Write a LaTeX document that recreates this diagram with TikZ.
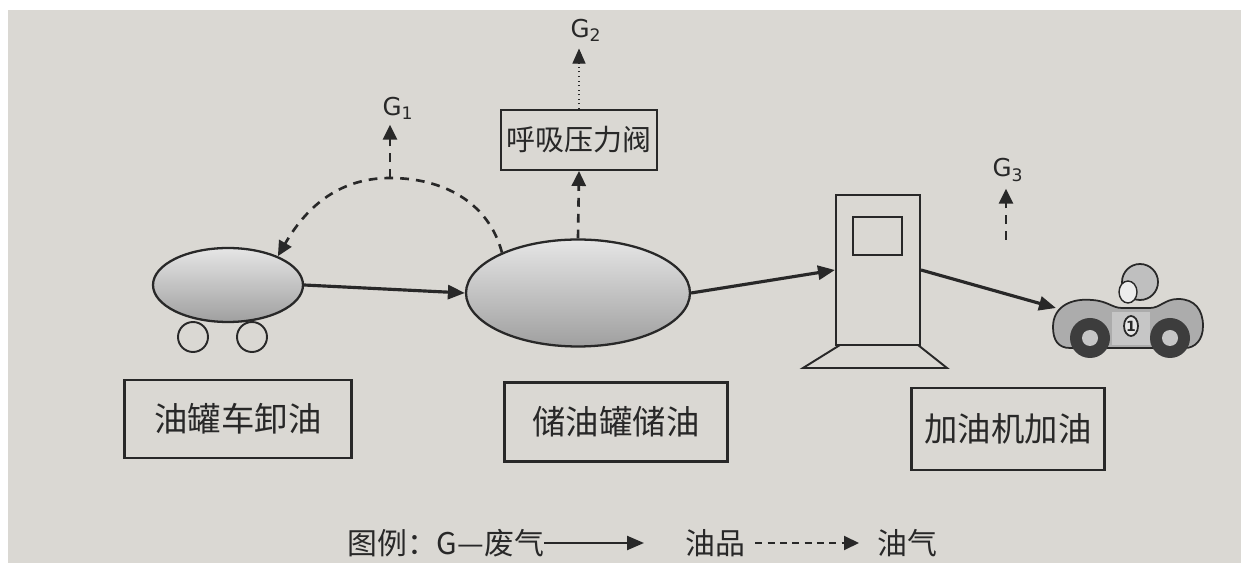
\documentclass[tikz,border=0pt]{standalone}
\usepackage{fontspec}
\setsansfont{DejaVu Sans}
\newfontfamily\cjk{Noto Sans CJK SC}
\usepackage{tikz}
\usetikzlibrary{arrows.meta,shapes.geometric,positioning}
\definecolor{paper}{RGB}{218,216,211}
\definecolor{ink}{RGB}{40,40,40}
\tikzset{
	thick,
	oil/.style = {draw=ink, line width=1.8pt, -{Triangle[length=3.4mm,width=2.8mm]}},
	gas/.style = {draw=ink, line width=1.5pt, dash pattern=on 5pt off 4pt, -{Triangle[length=3mm,width=2.8mm]}},
	vent/.style = {draw=ink, line width=0.6pt, dotted, -{Triangle[length=3mm,width=2.6mm]}},
	tankshape/.style = {
			ellipse,
			draw            = ink,
			line width      = 1.3pt,
			top color       = gray!20,
			bottom color    = gray!75,
		},
	stagebox/.style = {draw=ink, line width=1.2pt, text=ink, font=\cjk\fontsize{19}{22}\selectfont},
	gname/.style = {text=ink, font=\sffamily\fontsize{14}{16}\selectfont, inner sep=1pt},
	legend/.style = {text=ink, font=\cjk\fontsize{17}{20}\selectfont, inner sep=0pt},
}

\begin{document}
\begin{tikzpicture}[x=0.02cm, y=-0.02cm]
	\useasboundingbox (0,0) rectangle (1241,563);
	\fill[white] (0,0) rectangle (1241,563);
	\fill[paper] (8,10) rectangle (1241,563);

	% Tanker truck and storage tank
	\draw[ink, line width=1.1pt] (193,337) circle (15) (252,337) circle (15);
	\node[tankshape, minimum width=3cm, minimum height=1.48cm] (tank) at (228,285) {};
	\node[tankshape, minimum width=4.48cm, minimum height=2.14cm] (store) at (578,293) {};

	% Breather valve on top of the storage tank
	\node[draw=ink, line width=1.1pt, text=ink, font=\cjk\fontsize{16.5}{19}\selectfont,
		minimum width=3.06cm, minimum height=1.2cm] (valve) at (579,140) {呼吸压力阀};

	% Fuel dispenser
	\node[draw=ink, line width=1.2pt, minimum width=1.68cm, minimum height=3cm] (pump) at (878,270) {};
	\draw[ink, line width=1.1pt] (853,217) rectangle (902,255);
	\draw[ink, line width=1.1pt] (840,345) -- (918,345) -- (947,368) -- (803,368) -- cycle;

	% Car with driver
	\coordinate (car) at (1056,308);
	\draw[ink, line width=1pt, fill=gray!50] (1140,282) circle (18);
	\draw[ink, line width=0.8pt, fill=gray!15] (1128,292) ellipse (9 and 11);
	\draw[ink, line width=1pt, fill=gray!65]
		(1053,327) .. controls (1053,306) and (1072,298) .. (1092,300)
		.. controls (1108,301) and (1112,308) .. (1122,308)
		-- (1150,308) .. controls (1160,308) and (1165,299) .. (1178,299)
		.. controls (1195,299) and (1203,310) .. (1203,326)
		.. controls (1203,340) and (1195,348) .. (1185,348)
		-- (1070,348) .. controls (1058,348) and (1053,340) .. (1053,327) -- cycle;
	\fill[gray!45] (1112,312) rectangle (1150,345);
	\draw[ink, line width=1pt, fill=gray!20] (1131,326) ellipse (7 and 10);
	\node[text=ink, font=\sffamily\bfseries\fontsize{8}{9}\selectfont, inner sep=0pt] (carno) at (1131,326) {1};
	\foreach \wx in {1090,1170}
		{   \fill[ink!90] (\wx,338) circle (20);
			\fill[gray!45] (\wx,338) circle (8);
		}

	% Oil flow
	\draw[oil] (tank.east) -- (store.west);
	\draw[oil] (store.east) -- (pump.west);
	\draw[oil] (pump.east) -- (car);

	% Vapour and emissions
	\coordinate (g1base) at (390,178);
	\node[gname] (G1) at (398,108) {G\textsubscript{1}};
	\node[gname] (G2) at (586,30) {G\textsubscript{2}};
	\node[gname] (G3) at (1008,170) {G\textsubscript{3}};
	\coordinate (g3base) at (1006,240);

	\draw[gas] (store.152) to[out=105, in=0] (g1base) to[out=180, in=60] (tank.30);
	\draw[gas, shorten >=2pt] (g1base) -- (g1base |- G1.south);
	\draw[gas] (store.north) -- (valve.south);
	\draw[vent, shorten >=3pt] (valve.north) -- (valve.north |- G2.south);
	\draw[gas, shorten >=3pt] (g3base) -- (g3base |- G3.south);

	% Stage captions
	\node[stagebox, minimum width=4.54cm, minimum height=1.56cm] (cap1) at (238,419) {油罐车卸油};
	\node[stagebox, minimum width=4.46cm, minimum height=1.58cm] (cap2) at (616,422) {储油罐储油};
	\node[stagebox, minimum width=3.86cm, minimum height=1.64cm] (cap3) at (1008,429) {加油机加油};

	% Legend
	\node[legend, anchor=west] (key) at (347,543) {图例：G—废气};
	\node[legend, anchor=west] (keyoil) at (685,543) {油品};
	\node[legend, anchor=west] (keygas) at (877,543) {油气};
	\draw[oil, line width=1.3pt, shorten >=0.82cm] (key.east) -- (keyoil.west);
	\draw[gas, line width=1.1pt, dash pattern=on 4pt off 3pt, shorten <=0.2cm, shorten >=0.36cm] (keyoil.east) -- (keygas.west);
\end{tikzpicture}
\end{document}
